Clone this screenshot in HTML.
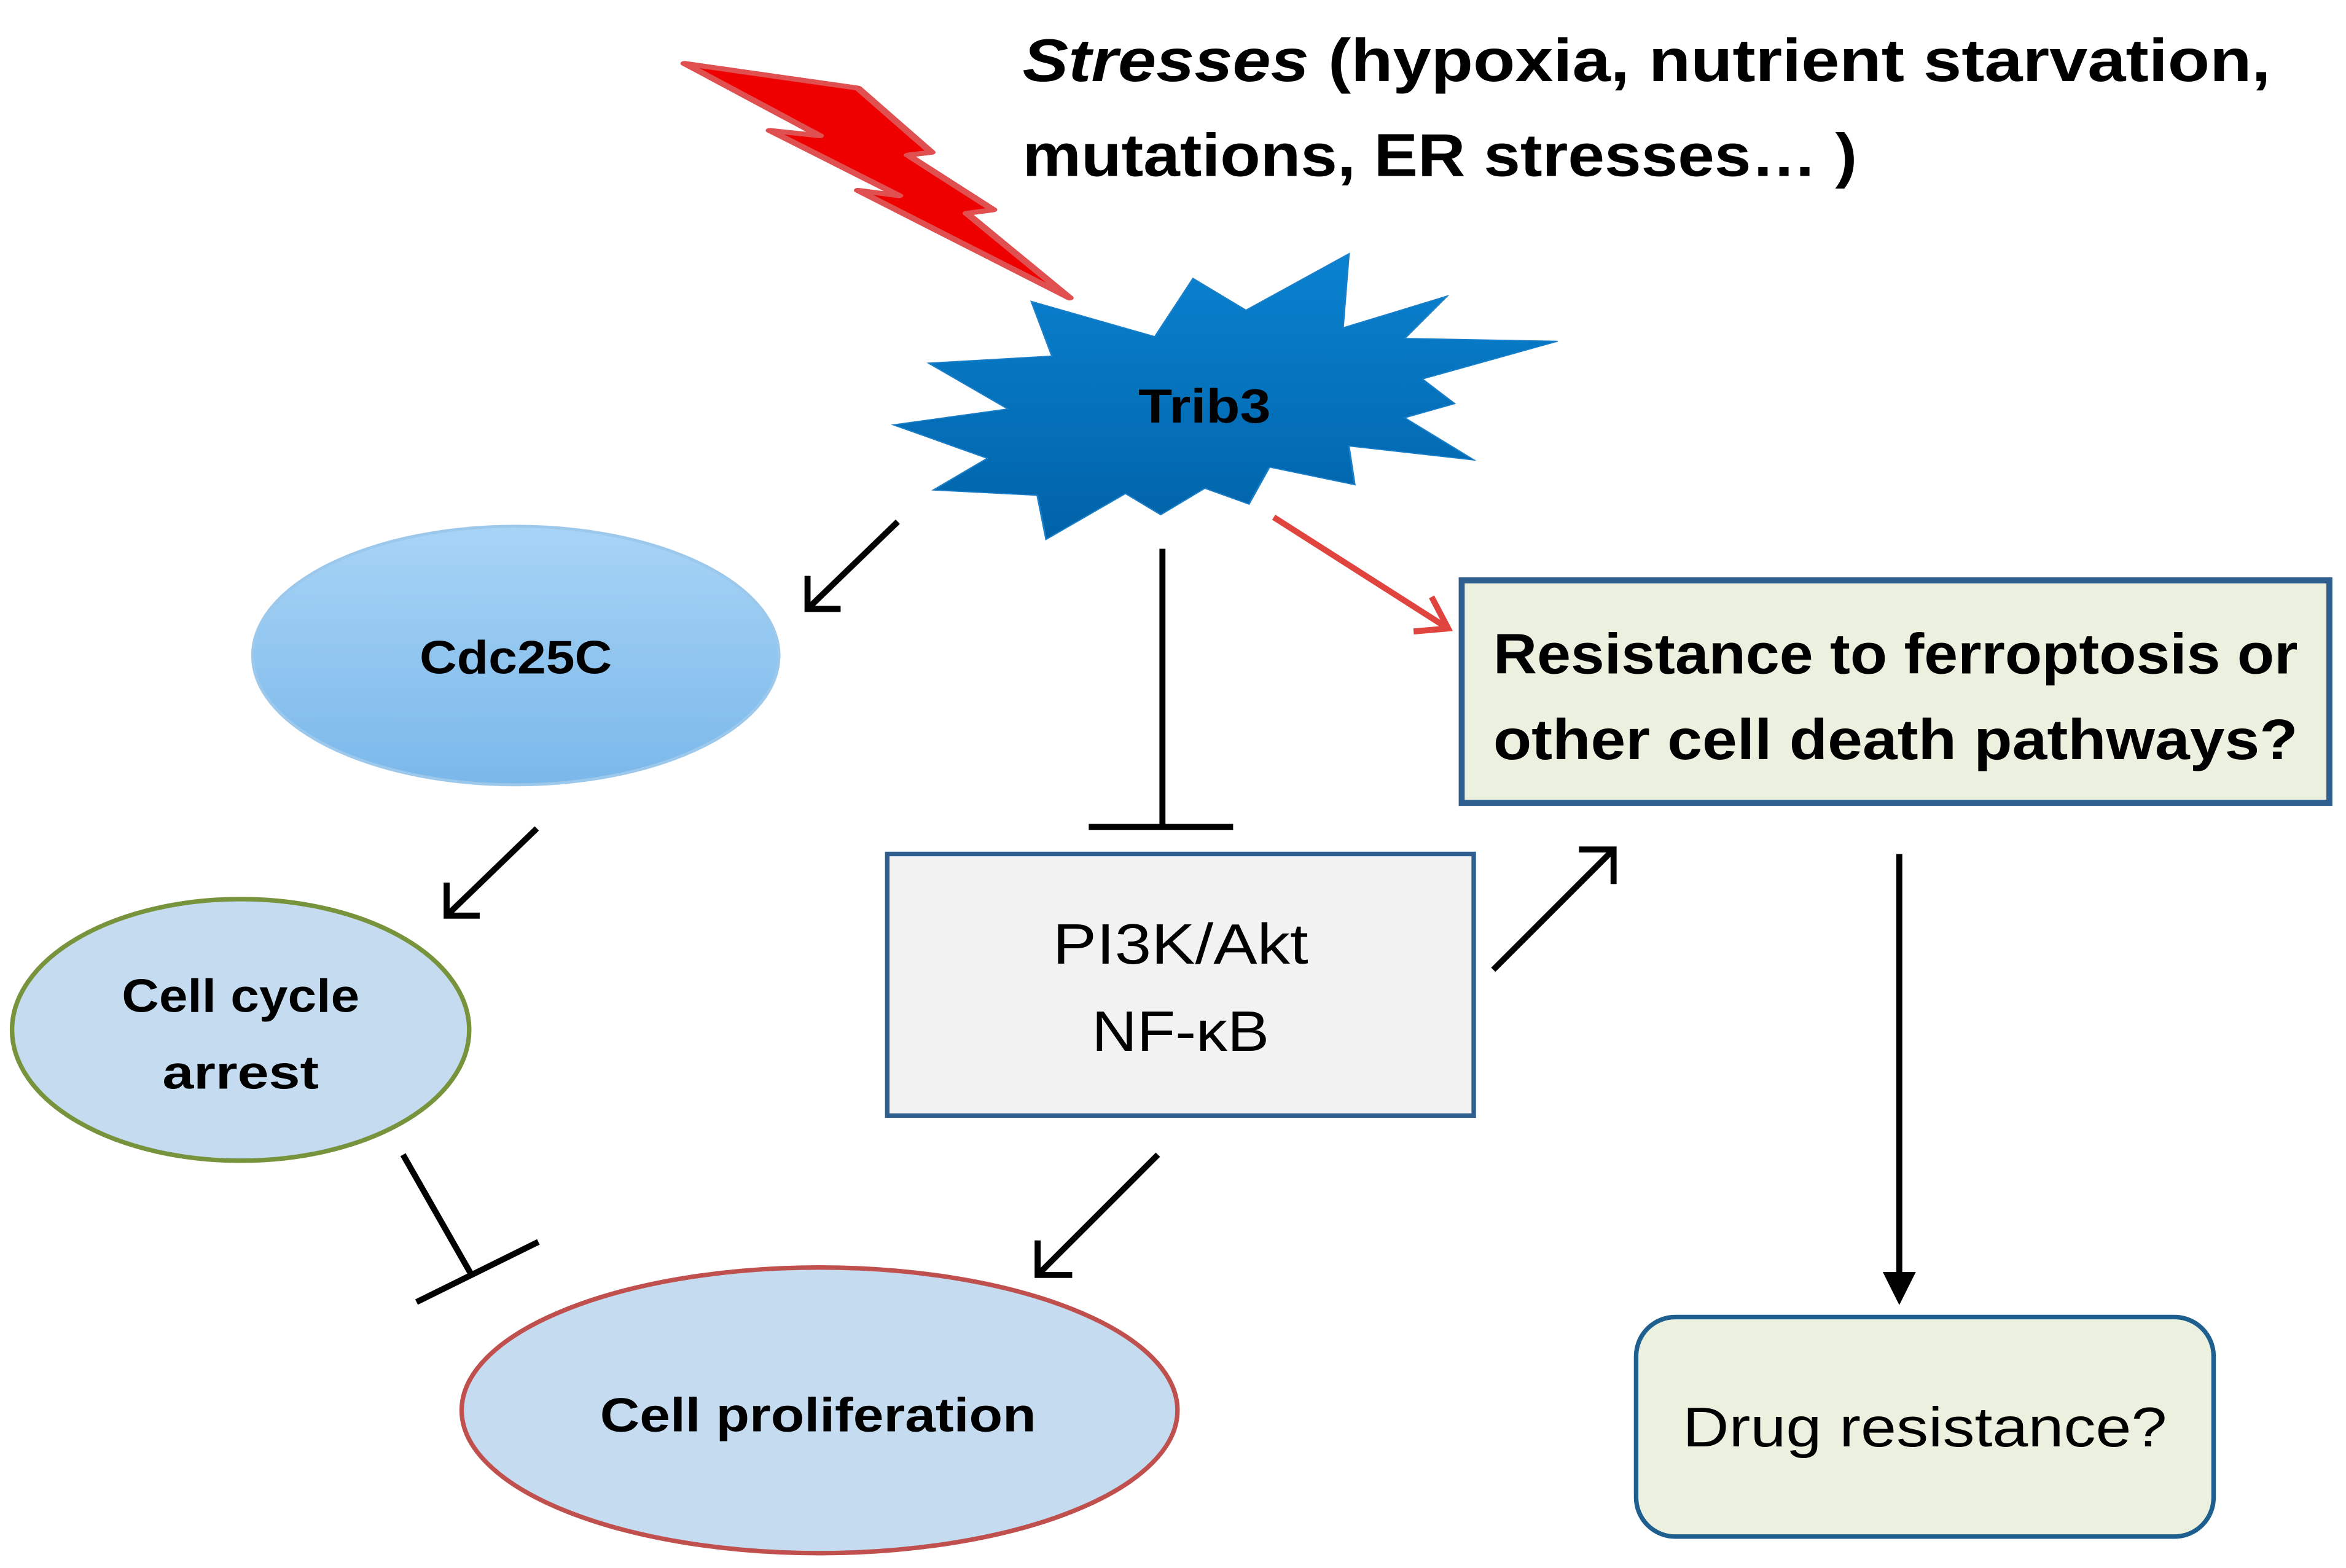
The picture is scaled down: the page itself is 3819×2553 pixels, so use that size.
<!DOCTYPE html>
<html><head><meta charset="utf-8"><style>
html,body{margin:0;padding:0;background:#fff;}
svg{display:block;}
</style></head><body>
<svg width="3819" height="2553" viewBox="0 0 3819 2553" xmlns="http://www.w3.org/2000/svg">
<defs>
<linearGradient id="sg" x1="0" y1="0" x2="0" y2="1"><stop offset="0" stop-color="#0a82d0"/><stop offset="1" stop-color="#0062a8"/></linearGradient>
<linearGradient id="cg" x1="0" y1="0" x2="0" y2="1"><stop offset="0" stop-color="#a8d4f6"/><stop offset="1" stop-color="#7ab8ea"/></linearGradient>
</defs>
<g transform="translate(1100,0) scale(0.957,0.574)">
<polygon points="15,180 310,250 435,432 395,440 540,595 495,605 670,845 310,540 380,555 160,370 245,385" fill="#ee0000" stroke="#e05050" stroke-width="14" stroke-linejoin="round"/>
<polygon points="1145,720 1135,930 1312,840 1240,960 1500,968 1270,1075 1325,1145 1240,1185 1358,1305 1145,1265 1155,1375 1010,1325 975,1430 900,1385 825,1460 765,1400 630,1530 615,1405 438,1390 530,1300 370,1205 565,1160 430,1030 640,1010 605,855 815,955 880,790 970,880" fill="url(#sg)" stroke="#1a7fc8" stroke-width="3"/>
</g>
<g transform="scale(2.448)">
<g font-family="Liberation Sans, sans-serif" font-weight="bold" fill="#000">
<text x="680" y="54" font-size="40" textLength="830" lengthAdjust="spacingAndGlyphs"><tspan font-style="italic">Stresses</tspan> (hypoxia, nutrient starvation,</text>
<text x="680" y="117" font-size="40" textLength="555" lengthAdjust="spacingAndGlyphs">mutations, ER stresses… )</text>
<text x="801" y="281" font-size="32" text-anchor="middle" textLength="88" lengthAdjust="spacingAndGlyphs">Trib3</text>
</g>
<ellipse cx="343" cy="436" rx="175" ry="86" fill="url(#cg)" stroke="#9cc8ec" stroke-width="2"/>
<ellipse cx="160" cy="685" rx="152" ry="87" fill="#c5dbef" stroke="#77933c" stroke-width="3"/>
<ellipse cx="545" cy="938" rx="238" ry="95" fill="#c5dbef" stroke="#c0504d" stroke-width="3"/>
<rect x="590" y="568" width="390" height="174" fill="#f2f2f2" stroke="#2e5f8f" stroke-width="3"/>
<rect x="972" y="386" width="577" height="148" fill="#ebf1de" stroke="#2e5f8f" stroke-width="4"/>
<rect x="1088" y="876" width="384" height="146" rx="26" fill="#ebf1de" stroke="#1f5f8f" stroke-width="3"/>
<g font-family="Liberation Sans, sans-serif" fill="#000">
<text x="343" y="448" font-size="31" font-weight="bold" text-anchor="middle" textLength="128" lengthAdjust="spacingAndGlyphs">Cdc25C</text>
<text x="160" y="673" font-size="31" font-weight="bold" text-anchor="middle" textLength="158" lengthAdjust="spacingAndGlyphs">Cell cycle</text>
<text x="160" y="724" font-size="31" font-weight="bold" text-anchor="middle" textLength="104" lengthAdjust="spacingAndGlyphs">arrest</text>
<text x="544" y="952" font-size="32" font-weight="bold" text-anchor="middle" textLength="290" lengthAdjust="spacingAndGlyphs">Cell proliferation</text>
<text x="785" y="641" font-size="38" text-anchor="middle" textLength="170" lengthAdjust="spacingAndGlyphs">PI3K/Akt</text>
<text x="785" y="699" font-size="38" text-anchor="middle" textLength="118" lengthAdjust="spacingAndGlyphs">NF-κB</text>
<text x="993" y="448" font-size="38" font-weight="bold" textLength="535" lengthAdjust="spacingAndGlyphs">Resistance to ferroptosis or</text>
<text x="993" y="505" font-size="38" font-weight="bold" textLength="535" lengthAdjust="spacingAndGlyphs">other cell death pathways?</text>
<text x="1280" y="962" font-size="37" text-anchor="middle" textLength="322" lengthAdjust="spacingAndGlyphs">Drug resistance?</text>
</g>
<g stroke="#000" stroke-width="4" fill="none" stroke-linecap="butt">
<line x1="597" y1="347" x2="537" y2="405"/><polyline points="537,383 537,405 559,405"/>
<line x1="357" y1="551" x2="297" y2="609"/><polyline points="297,587 297,609 319,609"/>
<line x1="773" y1="365" x2="773" y2="549"/><line x1="724" y1="550" x2="820" y2="550"/>
<line x1="993" y1="645" x2="1073" y2="565"/><polyline points="1050,565 1073,565 1073,588"/>
<line x1="770" y1="768" x2="690" y2="848"/><polyline points="690,825 690,848 713,848"/>
<line x1="268" y1="768" x2="313" y2="847"/><line x1="277" y1="866" x2="358" y2="826"/>
<line x1="1263" y1="568" x2="1263" y2="862"/>
</g>
<polygon points="1252,846 1274,846 1263,868" fill="#000"/>
<g stroke="#e0443e" stroke-width="4" fill="none">
<line x1="847" y1="344" x2="963" y2="418"/><polyline points="940,420 963,418 952,397"/>
</g>
</g>
</svg>
</body></html>
